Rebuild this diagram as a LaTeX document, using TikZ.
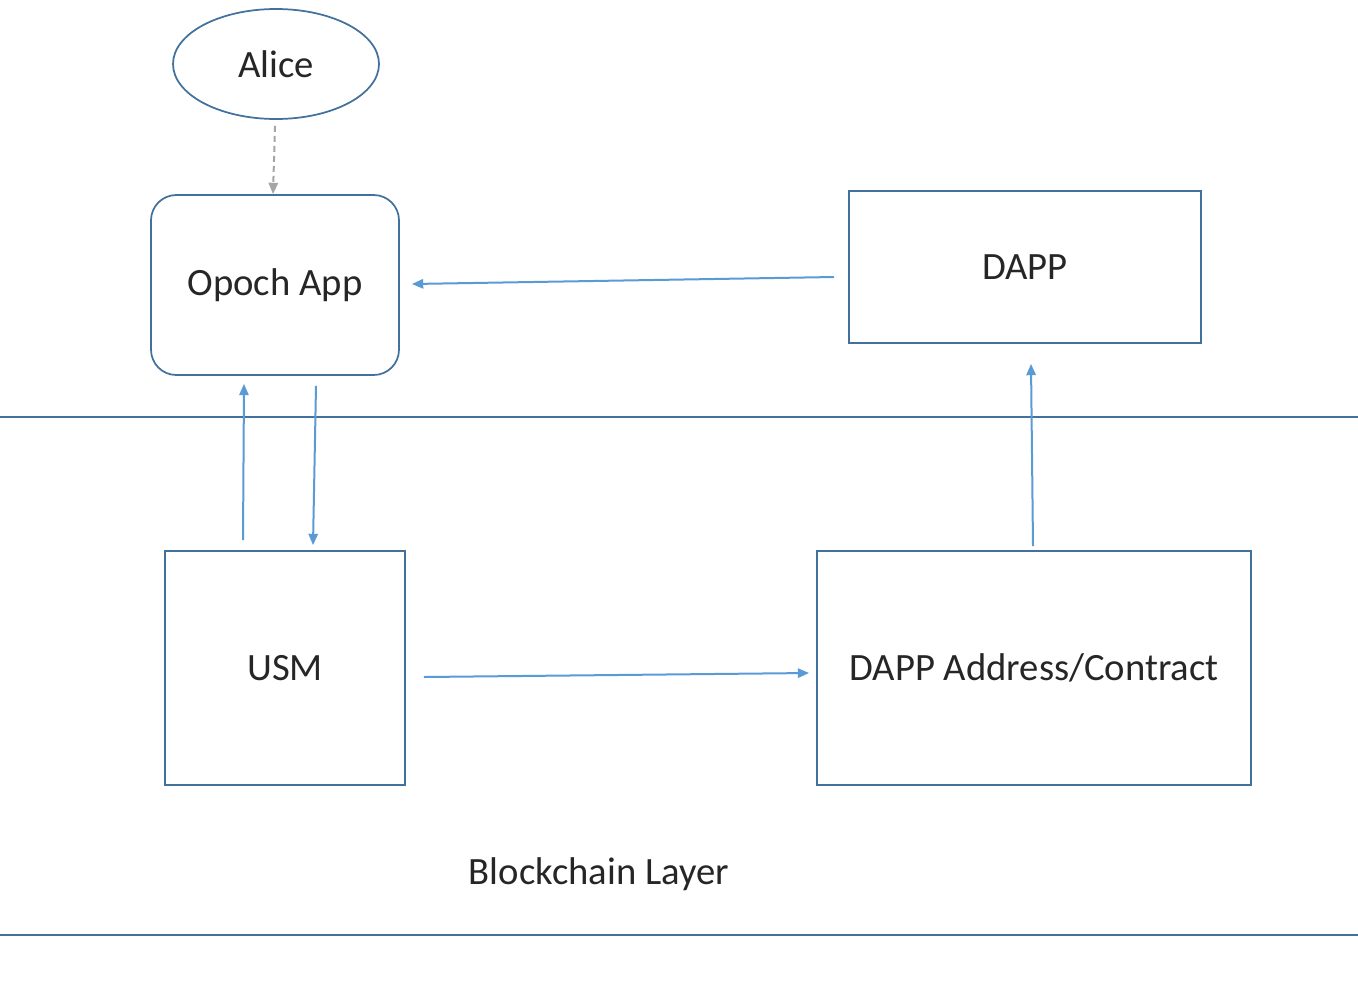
\documentclass[tikz,border=0pt]{standalone}
\usepackage{fontspec}
\setmainfont{Carlito}
\usetikzlibrary{arrows.meta,calc,shapes.geometric}
\definecolor{boxblue}{HTML}{41719C}
\definecolor{arrblue}{HTML}{5B9BD5}
\definecolor{txt}{HTML}{262626}
\definecolor{dgray}{HTML}{A5A5A5}
\begin{document}
\begin{tikzpicture}[x=0.75pt,y=-0.75pt,
  every node/.style={font=\fontsize{29}{33}\selectfont, text=txt},
  boxstyle/.style={draw=boxblue, line width=1.3pt, inner sep=0pt},
  arr/.style={draw=arrblue, line width=1.5pt, -{Triangle[length=8.5pt,width=7pt]}},
  darr/.style={draw=dgray, line width=1.5pt, dashed, dash pattern=on 4.5pt off 3pt, -{Triangle[length=8.5pt,width=7pt]}}]
\useasboundingbox (0,0) rectangle (1358,990);
\fill[white] (0,0) rectangle (1358,990);
% layer lines
\coordinate (l1a) at (0,417); \coordinate (l1b) at (1358,417);
\coordinate (l2a) at (0,935); \coordinate (l2b) at (1358,935);
\draw[boxblue, line width=1.3pt] (l1a) -- (l1b);
\draw[boxblue, line width=1.3pt] (l2a) -- (l2b);
% nodes
\node[boxstyle, ellipse, minimum width=206*0.75pt, minimum height=110*0.75pt] (alice) at (276,64) {Alice};
\node[boxstyle, rounded corners=19pt, minimum width=248*0.75pt, minimum height=180*0.75pt] (opoch) at (275,285) {Opoch App};
\node[boxstyle, minimum width=352*0.75pt, minimum height=152*0.75pt] (dapp) at (1025,267) {DAPP};
\node[boxstyle, minimum width=240*0.75pt, minimum height=234*0.75pt] (usm) at (285,668) {USM};
\node[boxstyle, minimum width=434*0.75pt, minimum height=234*0.75pt] (addr) at (1034,668) {DAPP Address/Contract};
\node (layer) at (599,874) {Blockchain Layer};
% connectors
\draw[darr] ($(alice.south)+(-1,6)$) -- ($(opoch.north)+(-2,0)$);
\draw[arr] ($(dapp.west)+(-14,10)$) -- ($(opoch.east)+(12,-1)$);
\draw[arr] ($(usm.north)+(-42,-10)$) -- ($(opoch.south)+(-31,8)$);
\draw[arr] ($(opoch.south)+(41,10)$) -- ($(usm.north)+(28,-5)$);
\draw[arr] ($(usm.east)+(18,9)$) -- ($(addr.west)+(-7,5)$);
\draw[arr] ($(addr.north)+(-1,-4)$) -- ($(dapp.south)+(6,20)$);
\end{tikzpicture}
\end{document}
